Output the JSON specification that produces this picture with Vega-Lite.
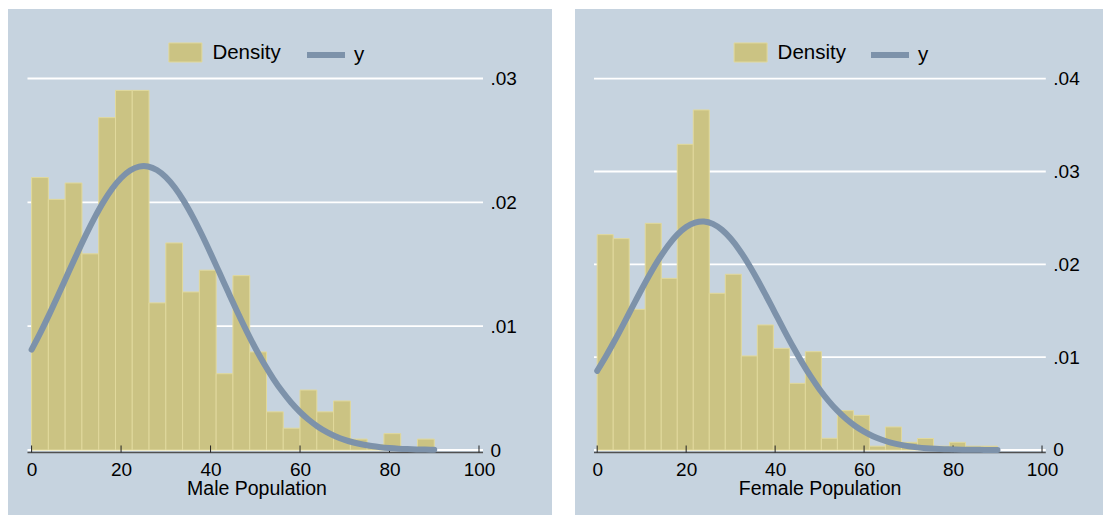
{
  "$schema": "https://vega.github.io/schema/vega-lite/v6.json",
  "background": "white",
  "padding": {"left": 8, "top": 9, "right": 0, "bottom": 0},
  "spacing": 23,
  "config": {
    "font": "Liberation Sans",
    "view": {"fill": "#C6D3DF", "stroke": null},
    "axis": {"labelFont": "Liberation Sans", "labelFontSize": 19, "labelColor": "#000000", "titleFont": "Liberation Sans", "titleFontSize": 19.5, "titleFontWeight": "normal", "titleColor": "#000000", "grid": false},
    "legend": {"labelFont": "Liberation Sans", "labelFontSize": 20.5, "labelColor": "#000000", "padding": 0, "title": null}
  },
  "resolve": {"scale": {"fill": "independent", "stroke": "independent"}, "legend": {"fill": "independent", "stroke": "independent"}},
  "datasets": {
    "maleBins": [
      {"x0": 0, "x1": 3.75, "d": 0.0220},
      {"x0": 3.75, "x1": 7.5, "d": 0.02024},
      {"x0": 7.5, "x1": 11.25, "d": 0.02156},
      {"x0": 11.25, "x1": 15, "d": 0.01584},
      {"x0": 15, "x1": 18.75, "d": 0.02684},
      {"x0": 18.75, "x1": 22.5, "d": 0.02904},
      {"x0": 22.5, "x1": 26.25, "d": 0.02904},
      {"x0": 26.25, "x1": 30, "d": 0.01188},
      {"x0": 30, "x1": 33.75, "d": 0.01672},
      {"x0": 33.75, "x1": 37.5, "d": 0.01276},
      {"x0": 37.5, "x1": 41.25, "d": 0.01452},
      {"x0": 41.25, "x1": 45, "d": 0.00616},
      {"x0": 45, "x1": 48.75, "d": 0.01408},
      {"x0": 48.75, "x1": 52.5, "d": 0.00792},
      {"x0": 52.5, "x1": 56.25, "d": 0.00308},
      {"x0": 56.25, "x1": 60, "d": 0.00176},
      {"x0": 60, "x1": 63.75, "d": 0.00484},
      {"x0": 63.75, "x1": 67.5, "d": 0.00308},
      {"x0": 67.5, "x1": 71.25, "d": 0.00396},
      {"x0": 71.25, "x1": 75, "d": 0.00088},
      {"x0": 75, "x1": 78.75, "d": 0.00044},
      {"x0": 78.75, "x1": 82.5, "d": 0.00132},
      {"x0": 86.25, "x1": 90, "d": 0.00088}
    ],
    "femaleBins": [
      {"x0": 0, "x1": 3.6, "d": 0.0232},
      {"x0": 3.6, "x1": 7.2, "d": 0.02277},
      {"x0": 7.2, "x1": 10.8, "d": 0.01515},
      {"x0": 10.8, "x1": 14.4, "d": 0.02442},
      {"x0": 14.4, "x1": 18, "d": 0.01849},
      {"x0": 18, "x1": 21.6, "d": 0.03293},
      {"x0": 21.6, "x1": 25.2, "d": 0.03663},
      {"x0": 25.2, "x1": 28.8, "d": 0.01688},
      {"x0": 28.8, "x1": 32.4, "d": 0.01893},
      {"x0": 32.4, "x1": 36, "d": 0.01013},
      {"x0": 36, "x1": 39.6, "d": 0.01347},
      {"x0": 39.6, "x1": 43.2, "d": 0.01095},
      {"x0": 43.2, "x1": 46.8, "d": 0.00718},
      {"x0": 46.8, "x1": 50.4, "d": 0.01059},
      {"x0": 50.4, "x1": 54, "d": 0.00126},
      {"x0": 54, "x1": 57.6, "d": 0.00424},
      {"x0": 57.6, "x1": 61.2, "d": 0.00373},
      {"x0": 61.2, "x1": 64.8, "d": 0.00041},
      {"x0": 64.8, "x1": 68.4, "d": 0.00248},
      {"x0": 68.4, "x1": 72, "d": 0.00083},
      {"x0": 72, "x1": 75.6, "d": 0.00124},
      {"x0": 75.6, "x1": 79.2, "d": 0.00041},
      {"x0": 79.2, "x1": 82.8, "d": 0.00083},
      {"x0": 82.8, "x1": 86.4, "d": 0.00041},
      {"x0": 86.4, "x1": 90, "d": 0.00041}
    ],
    "maleCurve": [
      {"x": 0, "y": 0.008100}, {"x": 2, "y": 0.009498}, {"x": 4, "y": 0.010991}, {"x": 6, "y": 0.012552},
      {"x": 8, "y": 0.014146}, {"x": 10, "y": 0.015734}, {"x": 12, "y": 0.017270}, {"x": 14, "y": 0.018707},
      {"x": 16, "y": 0.019998}, {"x": 18, "y": 0.021097}, {"x": 20, "y": 0.021964}, {"x": 22, "y": 0.022567},
      {"x": 24, "y": 0.022882}, {"x": 25.1, "y": 0.022928}, {"x": 26, "y": 0.022897}, {"x": 28, "y": 0.022612},
      {"x": 30, "y": 0.022037}, {"x": 32, "y": 0.021194}, {"x": 34, "y": 0.020117}, {"x": 36, "y": 0.018843},
      {"x": 38, "y": 0.017419}, {"x": 40, "y": 0.015891}, {"x": 42, "y": 0.014306}, {"x": 44, "y": 0.012711},
      {"x": 46, "y": 0.011144}, {"x": 48, "y": 0.009644}, {"x": 50, "y": 0.008235}, {"x": 52, "y": 0.006940},
      {"x": 54, "y": 0.005772}, {"x": 56, "y": 0.004738}, {"x": 58, "y": 0.003837}, {"x": 60, "y": 0.003068},
      {"x": 62, "y": 0.002420}, {"x": 64, "y": 0.001884}, {"x": 66, "y": 0.001447}, {"x": 68, "y": 0.001097},
      {"x": 70, "y": 0.000821}, {"x": 72, "y": 0.000606}, {"x": 74, "y": 0.000442}, {"x": 76, "y": 0.000318},
      {"x": 78, "y": 0.000226}, {"x": 80, "y": 0.000158}, {"x": 82, "y": 0.000109}, {"x": 84, "y": 0.0000745},
      {"x": 86, "y": 0.0000502}, {"x": 88, "y": 0.0000333}, {"x": 90, "y": 0.0000218}
    ],
    "femaleCurve": [
      {"x": 0, "y": 0.008523}, {"x": 2, "y": 0.010124}, {"x": 4, "y": 0.011845}, {"x": 6, "y": 0.013650},
      {"x": 8, "y": 0.015490}, {"x": 10, "y": 0.017313}, {"x": 12, "y": 0.019058}, {"x": 14, "y": 0.020661},
      {"x": 16, "y": 0.022061}, {"x": 18, "y": 0.023199}, {"x": 20, "y": 0.024026}, {"x": 22, "y": 0.024507},
      {"x": 23.6, "y": 0.024627}, {"x": 24, "y": 0.024620}, {"x": 26, "y": 0.024358}, {"x": 28, "y": 0.023735},
      {"x": 30, "y": 0.022778}, {"x": 32, "y": 0.021529}, {"x": 34, "y": 0.020041}, {"x": 36, "y": 0.018374},
      {"x": 38, "y": 0.016590}, {"x": 40, "y": 0.014752}, {"x": 42, "y": 0.012921}, {"x": 44, "y": 0.011145},
      {"x": 46, "y": 0.009467}, {"x": 48, "y": 0.007921}, {"x": 50, "y": 0.006527}, {"x": 52, "y": 0.005297},
      {"x": 54, "y": 0.004234}, {"x": 56, "y": 0.003333}, {"x": 58, "y": 0.002584}, {"x": 60, "y": 0.001973},
      {"x": 62, "y": 0.001484}, {"x": 64, "y": 0.001099}, {"x": 66, "y": 0.000801}, {"x": 68, "y": 0.000576},
      {"x": 70, "y": 0.000408}, {"x": 72, "y": 0.000284}, {"x": 74, "y": 0.000195}, {"x": 76, "y": 0.000132},
      {"x": 78, "y": 0.0000877}, {"x": 80, "y": 0.0000574}, {"x": 82, "y": 0.0000371}, {"x": 84, "y": 0.0000236},
      {"x": 86, "y": 0.0000148}, {"x": 88, "y": 0.0000091}, {"x": 90, "y": 0.0000055}
    ],
    "maleGrid": [{"v": 0}, {"v": 0.01}, {"v": 0.02}, {"v": 0.03}],
    "femaleGrid": [{"v": 0}, {"v": 0.01}, {"v": 0.02}, {"v": 0.03}, {"v": 0.04}],
    "xTicks": [{"t": 0}, {"t": 20}, {"t": 40}, {"t": 60}, {"t": 80}, {"t": 100}]
  },
  "hconcat": [
    {
      "width": 544,
      "height": 506,
      "layer": [
        {
          "data": {"name": "maleGrid"},
          "mark": {"type": "rule", "color": "#FFFFFF", "strokeWidth": 1.8},
          "encoding": {
            "y": {"field": "v", "type": "quantitative", "scale": {"domain": [-0.005249, 0.035613], "nice": false, "zero": false},
              "axis": {"orient": "right", "values": [0, 0.01, 0.02, 0.03], "labelExpr": "datum.value == 0 ? '0' : substring(format(datum.value, '.2f'), 1)", "offset": -69, "domain": false, "ticks": false, "labelPadding": 7, "labelFlush": false, "labelOverlap": false, "labelBaseline": "middle", "title": null}},
            "x": {"datum": -0.92, "type": "quantitative", "scale": {"domain": [-5.275, 116.32], "nice": false, "zero": false},
              "axis": {"orient": "bottom", "values": [0, 20, 40, 60, 80, 100], "format": "d", "offset": -62.5, "domain": false, "ticks": false, "labelPadding": 8, "labelFlush": false, "labelOverlap": false, "title": "Male Population", "titleX": 248.5, "titleY": 41.5, "titleAlign": "center", "titleBaseline": "alphabetic"}},
            "x2": {"datum": 100.9}
          }
        },
        {
          "data": {"name": "maleBins"},
          "mark": {"type": "rect", "stroke": "#E1D99C", "strokeWidth": 1},
          "encoding": {
            "x": {"field": "x0", "type": "quantitative", "scale": {"domain": [-5.275, 116.32], "nice": false, "zero": false}},
            "x2": {"field": "x1"},
            "y": {"field": "d", "type": "quantitative", "scale": {"domain": [-0.005249, 0.035613], "nice": false, "zero": false}},
            "y2": {"datum": 0},
            "fill": {"datum": "Density", "type": "nominal", "scale": {"domain": ["Density"], "range": ["#CBC383"]},
              "legend": {"orient": "none", "legendX": 160.4, "legendY": 26.5, "title": null, "symbolType": "M-1,-0.576H1V0.576H-1Z", "symbolSize": 1089, "symbolStrokeColor": "#E1D99C", "symbolStrokeWidth": 1, "labelOffset": 10}}
          }
        },
        {
          "data": {"values": [{}]},
          "mark": {"type": "rule", "color": "#505050", "strokeWidth": 1.5},
          "encoding": {
            "y": {"datum": -0.0002, "type": "quantitative", "scale": {"domain": [-0.005249, 0.035613], "nice": false, "zero": false}},
            "x": {"datum": -0.92, "type": "quantitative", "scale": {"domain": [-5.275, 116.32], "nice": false, "zero": false}},
            "x2": {"datum": 100.9}
          }
        },
        {
          "data": {"name": "xTicks"},
          "mark": {"type": "rule", "color": "#222222", "strokeWidth": 1},
          "encoding": {
            "x": {"field": "t", "type": "quantitative", "scale": {"domain": [-5.275, 116.32], "nice": false, "zero": false}},
            "y": {"datum": -0.0002, "type": "quantitative", "scale": {"domain": [-0.005249, 0.035613], "nice": false, "zero": false}},
            "y2": {"datum": 0.000365}
          }
        },
        {
          "data": {"name": "maleCurve"},
          "mark": {"type": "line", "strokeWidth": 6, "strokeCap": "round", "strokeJoin": "round", "interpolate": "monotone"},
          "encoding": {
            "x": {"field": "x", "type": "quantitative", "scale": {"domain": [-5.275, 116.32], "nice": false, "zero": false}},
            "y": {"field": "y", "type": "quantitative", "scale": {"domain": [-0.005249, 0.035613], "nice": false, "zero": false}},
            "stroke": {"datum": "y", "type": "nominal", "scale": {"domain": ["y"], "range": ["#7D92AA"]},
              "legend": {"orient": "none", "legendX": 296, "legendY": 24, "title": null, "symbolType": "stroke", "symbolSize": 1444, "symbolStrokeWidth": 6, "labelOffset": 6}}
          }
        }
      ]
    },
    {
      "width": 528,
      "height": 506,
      "layer": [
        {
          "data": {"name": "femaleGrid"},
          "mark": {"type": "rule", "color": "#FFFFFF", "strokeWidth": 1.8},
          "encoding": {
            "y": {"field": "v", "type": "quantitative", "scale": {"domain": [-0.007003, 0.047509], "nice": false, "zero": false},
              "axis": {"orient": "right", "values": [0, 0.01, 0.02, 0.03, 0.04], "labelExpr": "datum.value == 0 ? '0' : substring(format(datum.value, '.2f'), 1)", "offset": -57.2, "domain": false, "ticks": false, "labelPadding": 7, "labelFlush": false, "labelOverlap": false, "labelBaseline": "middle", "title": null}},
            "x": {"datum": -0.72, "type": "quantitative", "scale": {"domain": [-4.991, 113.71], "nice": false, "zero": false},
              "axis": {"orient": "bottom", "values": [0, 20, 40, 60, 80, 100], "format": "d", "offset": -62.5, "domain": false, "ticks": false, "labelPadding": 8, "labelFlush": false, "labelOverlap": false, "title": "Female Population", "titleX": 244.6, "titleY": 41.5, "titleAlign": "center", "titleBaseline": "alphabetic"}},
            "x2": {"datum": 100.85}
          }
        },
        {
          "data": {"name": "femaleBins"},
          "mark": {"type": "rect", "stroke": "#E1D99C", "strokeWidth": 1},
          "encoding": {
            "x": {"field": "x0", "type": "quantitative", "scale": {"domain": [-4.991, 113.71], "nice": false, "zero": false}},
            "x2": {"field": "x1"},
            "y": {"field": "d", "type": "quantitative", "scale": {"domain": [-0.007003, 0.047509], "nice": false, "zero": false}},
            "y2": {"datum": 0},
            "fill": {"datum": "Density", "type": "nominal", "scale": {"domain": ["Density"], "range": ["#CBC383"]},
              "legend": {"orient": "none", "legendX": 158.6, "legendY": 26.5, "title": null, "symbolType": "M-1,-0.576H1V0.576H-1Z", "symbolSize": 1089, "symbolStrokeColor": "#E1D99C", "symbolStrokeWidth": 1, "labelOffset": 10}}
          }
        },
        {
          "data": {"values": [{}]},
          "mark": {"type": "rule", "color": "#505050", "strokeWidth": 1.5},
          "encoding": {
            "y": {"datum": -0.00027, "type": "quantitative", "scale": {"domain": [-0.007003, 0.047509], "nice": false, "zero": false}},
            "x": {"datum": -0.72, "type": "quantitative", "scale": {"domain": [-4.991, 113.71], "nice": false, "zero": false}},
            "x2": {"datum": 100.85}
          }
        },
        {
          "data": {"name": "xTicks"},
          "mark": {"type": "rule", "color": "#222222", "strokeWidth": 1},
          "encoding": {
            "x": {"field": "t", "type": "quantitative", "scale": {"domain": [-4.991, 113.71], "nice": false, "zero": false}},
            "y": {"datum": -0.00027, "type": "quantitative", "scale": {"domain": [-0.007003, 0.047509], "nice": false, "zero": false}},
            "y2": {"datum": 0.000484}
          }
        },
        {
          "data": {"name": "femaleCurve"},
          "mark": {"type": "line", "strokeWidth": 6, "strokeCap": "round", "strokeJoin": "round", "interpolate": "monotone"},
          "encoding": {
            "x": {"field": "x", "type": "quantitative", "scale": {"domain": [-4.991, 113.71], "nice": false, "zero": false}},
            "y": {"field": "y", "type": "quantitative", "scale": {"domain": [-0.007003, 0.047509], "nice": false, "zero": false}},
            "stroke": {"datum": "y", "type": "nominal", "scale": {"domain": ["y"], "range": ["#7D92AA"]},
              "legend": {"orient": "none", "legendX": 293, "legendY": 24, "title": null, "symbolType": "stroke", "symbolSize": 1444, "symbolStrokeWidth": 6, "labelOffset": 6}}
          }
        }
      ]
    }
  ]
}
